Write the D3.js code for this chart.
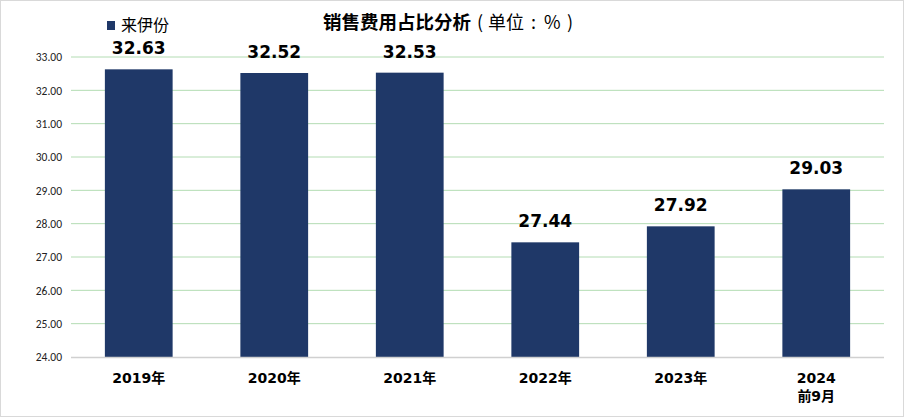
<!DOCTYPE html>
<html><head><meta charset="utf-8">
<script src="https://cdn.jsdelivr.net/npm/d3@7"></script>
<style>body{margin:0;background:#fff}svg{display:block}</style>
</head><body>
<svg id="c" width="904" height="417"></svg>
<script>
const categories = ["2019年","2020年","2021年","2022年","2023年","2024\n前9月"];
const values = [32.63, 32.52, 32.53, 27.44, 27.92, 29.03];
const yTicks = [24,25,26,27,28,29,30,31,32,33];
const seriesName = "来伊份";
const titleMain = "销售费用占比分析";
const titleUnitParts = ["(", "单位", ":", "%", ")"];

const svg = d3.select("#c");
svg.append("rect").attr("x",0.5).attr("y",0.5).attr("width",903).attr("height",416)
  .attr("fill","#fff").attr("stroke","#d9d9d9");

const x = d3.scaleBand().domain(categories).range([71,884]).paddingInner(0.5).paddingOuter(0.25);
const y = d3.scaleLinear().domain([24,33]).range([357,57]);

// gridlines
svg.append("g").selectAll("line").data(yTicks.filter(d=>d>24)).join("line")
  .attr("x1",71).attr("x2",884).attr("y1",d=>y(d)).attr("y2",d=>y(d))
  .attr("stroke","#b3dcb3").attr("stroke-width",1);

// y axis labels
const yAxis = d3.axisLeft(y).tickValues(yTicks).tickFormat(d3.format(".2f")).tickSize(0).tickPadding(9);
const ya = svg.append("g").attr("transform","translate(71,0)").call(yAxis);
ya.select(".domain").remove();
ya.selectAll("text").attr("font-family","Calibri,'Liberation Sans Narrow','Roboto Condensed',Arial,sans-serif")
  .attr("font-size",11.5).attr("fill","#222");

// bars
svg.append("g").selectAll("rect").data(values).join("rect")
  .attr("x",(d,i)=>x(categories[i])).attr("width",x.bandwidth())
  .attr("y",d=>y(d)).attr("height",d=>y(24)-y(d)).attr("fill","#1f3868");

// baseline
svg.append("line").attr("x1",71).attr("x2",884).attr("y1",357.5).attr("y2",357.5)
  .attr("stroke","#d0d0d0").attr("stroke-width",1.5);

// value labels
svg.append("g").selectAll("text").data(values).join("text")
  .attr("x",(d,i)=>x(categories[i])+x.bandwidth()/2).attr("y",d=>y(d)-15)
  .attr("text-anchor","middle").attr("font-family","'DejaVu Sans',Verdana,sans-serif")
  .attr("font-weight","bold").attr("font-size",17).attr("fill","#000")
  .text(d=>d.toFixed(2));

// x labels
const xl = svg.append("g").selectAll("text").data(categories).join("text")
  .attr("x",d=>x(d)+x.bandwidth()/2).attr("y",383)
  .attr("text-anchor","middle").attr("font-family","'DejaVu Sans','Noto Sans CJK SC',sans-serif")
  .attr("font-weight","bold").attr("font-size",14).attr("fill","#000");
xl.each(function(d){
  const t=d3.select(this); const parts=d.split("\n");
  parts.forEach((p,i)=>t.append("tspan").attr("x",x(d)+x.bandwidth()/2).attr("dy",i?18:0).text(p));
});

// title
const tt = svg.append("text").attr("x",323).attr("y",29).attr("text-anchor","start")
  .attr("font-family","'Noto Sans CJK SC',sans-serif").attr("fill","#000");
tt.append("tspan").attr("font-weight","bold").attr("font-size",18.5).text(titleMain);
const unitX = [477, 488, 531, 544, 567];
titleUnitParts.forEach((p,i)=>tt.append("tspan").attr("x",unitX[i]).attr("font-size",18).text(p));

// legend
svg.append("rect").attr("x",107).attr("y",21).attr("width",8).attr("height",9).attr("fill","#1f3868");
svg.append("text").attr("x",121).attr("y",31).attr("font-family","'Noto Sans CJK SC',sans-serif")
  .attr("font-size",16).attr("fill","#000").text(seriesName);
</script>
</body></html>
